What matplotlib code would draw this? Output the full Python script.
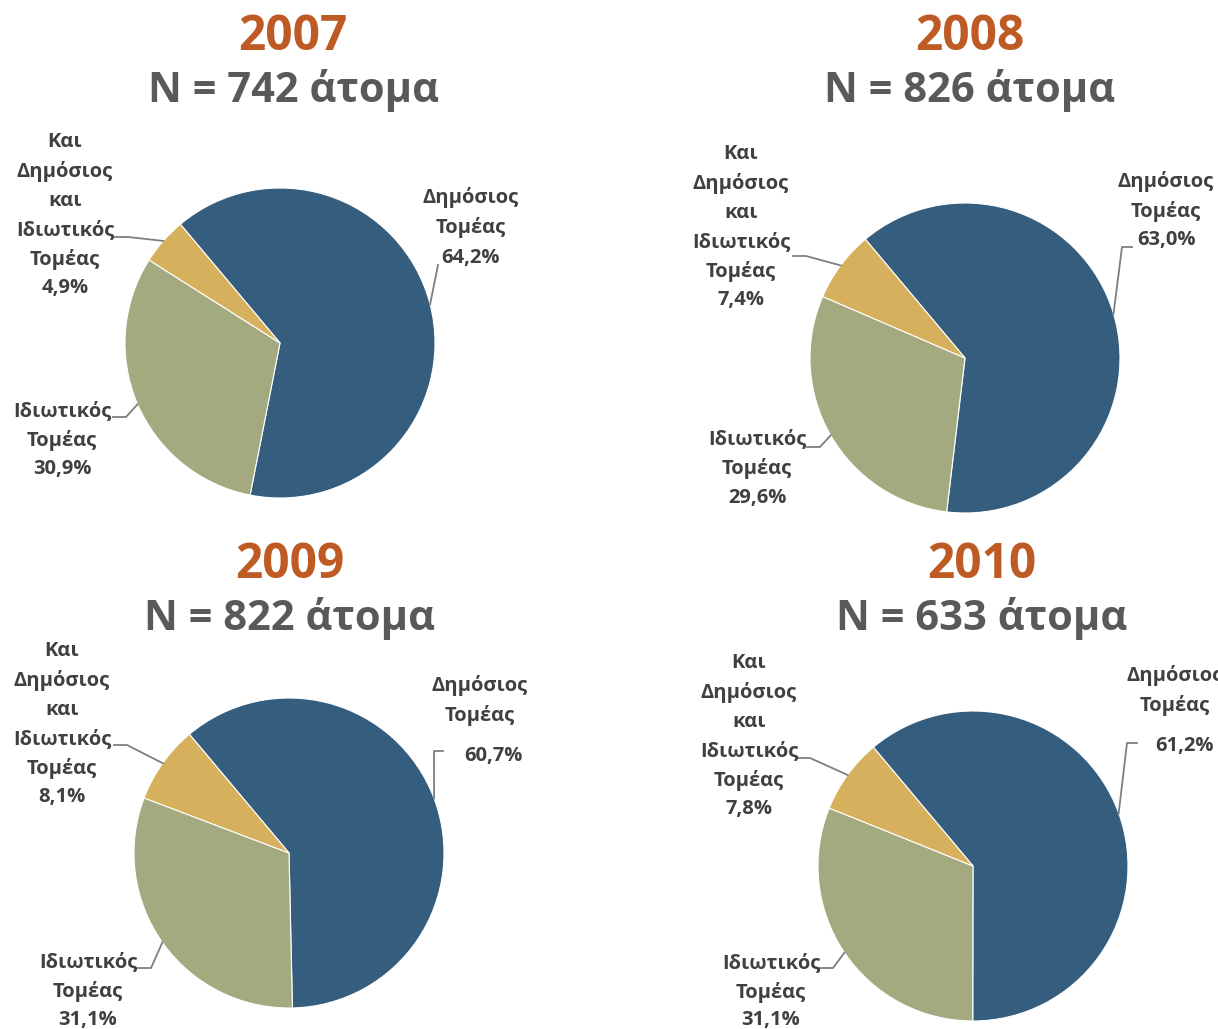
import matplotlib
matplotlib.use("Agg")
import numpy as np
import matplotlib.pyplot as plt

plt.rcParams['font.family'] = ['Open Sans', 'DejaVu Sans']

# data
years = ['2007', '2008', '2009', '2010']
totals = [742, 826, 822, 633]
sector_names = ['Δημόσιος\nΤομέας',
                'Ιδιωτικός\nΤομέας',
                'Και\nΔημόσιος\nκαι\nΙδιωτικός\nΤομέας']
public = [64.2, 63.0, 60.7, 61.2]
private = [30.9, 29.6, 31.1, 31.1]
both = [4.9, 7.4, 8.1, 7.8]

colors = ['#355D7E', '#A4AA7F', '#D6B05C']
W, H = 1218, 1029

# layout, in pixels from the top left corner
centers = [(280, 343), (965, 358), (289, 853), (973, 866)]
radius = 155
title_pos = [(293, 37, 90), (970, 37, 90), (290, 566, 619), (982, 566, 619)]
# name x, first name line y, value x, value y
label_pos = [
    [(471, 198, 471, 258), (62, 411, 62, 469), (65, 142, 65, 288)],
    [(1166, 182, 1166, 240), (757, 439, 757, 498), (741, 154, 741, 300)],
    [(480, 686, 493, 756), (88, 962, 88, 1020), (62, 651, 62, 797)],
    [(1175, 676, 1185, 746), (771, 963, 771, 1020), (749, 663, 749, 809)],
]
# leader points from the label side; the wedge end is added from the pie
leader_pts = [
    [[(438, 265)], [(113, 417), (126, 417)], [(115, 237), (128, 237)]],
    [[(1132, 247), (1122, 247)], [(807, 447), (820, 447)], [(793, 256), (806, 256)]],
    [[(443, 751), (434, 751)], [(138, 968), (151, 968)], [(114, 745), (127, 745)]],
    [[(1137, 743), (1127, 743)], [(820, 968), (833, 968)], [(797, 758), (810, 758)]],
]
line_step = 29.3


def fy(y):
    return H - y


fig = plt.figure(figsize=(W / 100, H / 100), dpi=100)
ax = fig.add_axes([0, 0, 1, 1])

for i, year in enumerate(years):
    vals = [public[i], private[i], both[i]]
    cx, cy = centers[i]
    wedges, _ = ax.pie(vals, colors=colors, startangle=130, counterclock=False,
                       center=(cx, fy(cy)), radius=radius, frame=True,
                       wedgeprops=dict(edgecolor='white', linewidth=0.8))

    tx, ty1, ty2 = title_pos[i]
    ax.text(tx, fy(ty1), year, ha='center', va='center', fontsize=34.5,
            fontweight='bold', color='#BE5B25')
    ax.text(tx, fy(ty2), 'N = %d άτομα' % totals[i], ha='center', va='center',
            fontsize=30, fontweight='bold', color='#595959')

    for j, w in enumerate(wedges):
        # leader line to the middle of the wedge edge
        mid = np.deg2rad((w.theta1 + w.theta2) / 2)
        ex = cx + radius * np.cos(mid)
        ey = fy(cy) + radius * np.sin(mid)
        pts = leader_pts[i][j]
        xs = [p[0] for p in pts] + [ex]
        ys = [fy(p[1]) for p in pts] + [ey]
        ax.plot(xs, ys, color='#7F7F7F', lw=1.3)

        nx, ny, vx, vy = label_pos[i][j]
        for k, line in enumerate(sector_names[j].split('\n')):
            ax.text(nx, fy(ny + k * line_step), line, ha='center', va='center',
                    fontsize=14.5, fontweight='bold', color='#404040')
        val = ('%.1f' % vals[j]).replace('.', ',') + '%'
        ax.text(vx, fy(vy), val, ha='center', va='center',
                fontsize=14.5, fontweight='bold', color='#404040')

ax.set_xlim(0, W)
ax.set_ylim(0, H)
ax.set_aspect('equal')
ax.axis('off')

fig.savefig('out.png', dpi=100)
